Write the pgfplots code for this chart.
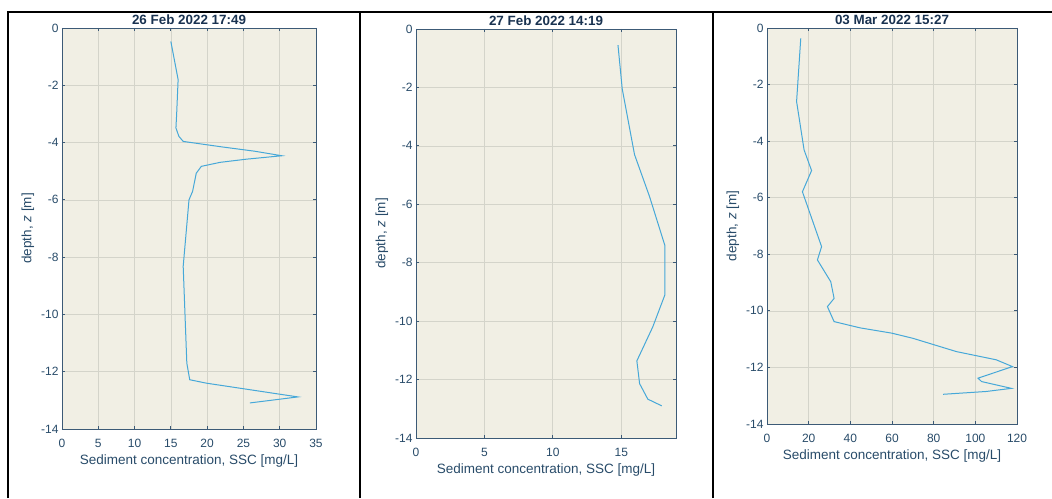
\documentclass[border=0pt]{standalone}
\usepackage{fontspec}
\setmainfont{Liberation Sans}
\usepackage{pgfplots}
\pgfplotsset{compat=1.18}
\definecolor{bgc}{RGB}{241,239,228}
\definecolor{linec}{RGB}{70,168,216}
\definecolor{axc}{RGB}{60,90,118}
\definecolor{txc}{RGB}{40,75,105}
\definecolor{titc}{RGB}{25,50,80}
\definecolor{gridc}{RGB}{212,212,202}
\pgfplotsset{
 myax/.style={
  scale only axis, anchor=south west,
  xmin=0, ymin=-14, ymax=0, ytick={-14,-12,...,0},
  axis background/.style={fill=bgc},
  axis line style={axc, line width=0.8pt},
  tick style={axc, line width=0.8pt},
  major tick length=3pt,
  tick align=inside,
  grid=major, major grid style={gridc, line width=0.7pt},
  tick label style={font=\fontsize{12}{14}\selectfont, text=txc},
  xticklabel style={yshift=-7pt},
  label style={font=\fontsize{13.5}{15}\selectfont, text=txc},
  title style={font=\bfseries\fontsize{13.4}{15}\selectfont, text=titc, inner sep=0pt, at={(0.5,1)}, anchor=south, yshift=-3pt},
  /pgf/number format/assume math mode=true,
  xlabel={Sediment concentration, SSC [mg/L]},
  ylabel={depth, \textit{z} [m]},
 }
}
\pgfplotstableread{
x y
15.0 -0.47
16.0 -1.80
15.8 -3.00
15.7 -3.49
16.1 -3.78
16.7 -3.96
22.0 -4.15
26.5 -4.30
30.3 -4.46
25.4 -4.58
21.8 -4.69
19.2 -4.83
18.5 -5.07
18.0 -5.70
17.5 -6.00
16.7 -8.32
17.2 -11.70
17.6 -12.28
19.9 -12.40
32.5 -12.88
25.9 -13.09
}\dataA
\pgfplotstableread{
x y
14.76 -0.55
15.07 -2.05
15.97 -4.30
17.07 -5.74
18.18 -7.40
18.18 -9.11
17.30 -10.20
16.14 -11.36
16.34 -12.14
16.94 -12.67
17.96 -12.90
}\dataB
\pgfplotstableread{
x y
16.2 -0.37
14.2 -2.60
17.8 -4.31
21.4 -5.04
17.0 -5.79
26.2 -7.73
24.2 -8.20
30.6 -8.97
32.2 -9.56
29.0 -9.85
32.2 -10.38
44.6 -10.60
60.0 -10.79
70.0 -10.97
90.9 -11.44
110.0 -11.73
117.8 -11.97
101.3 -12.38
103.0 -12.50
117.3 -12.74
105.3 -12.85
84.5 -12.95
}\dataC
\begin{document}
\begin{tikzpicture}
\path[use as bounding box] (0pt,0pt) rectangle (1052pt,498pt);
\draw[line width=1.5pt] (8pt,0pt) -- (8pt,486pt) -- (1052pt,486pt);
\draw[line width=1.5pt] (360pt,0pt) -- (360pt,486pt);
\draw[line width=1.5pt] (713pt,0pt) -- (713pt,486pt);
\begin{axis}[myax, at={(62pt,69pt)}, width=254pt, height=401pt, xmax=35, xtick={0,5,...,35},
  title={26 Feb 2022 17:49}]
\addplot[linec, line width=1pt, mark=none] table[x=x,y=y] {\dataA};
\end{axis}
\begin{axis}[myax, at={(416pt,60pt)}, width=260pt, height=409pt, xmax=19, xtick={0,5,10,15},
  title={27 Feb 2022 14:19}]
\addplot[linec, line width=1pt, mark=none] table[x=x,y=y] {\dataB};
\end{axis}
\begin{axis}[myax, at={(767pt,74pt)}, width=250pt, height=396pt, xmax=120, xtick={0,20,...,120},
  title={03 Mar 2022 15:27}]
\addplot[linec, line width=1pt, mark=none] table[x=x,y=y] {\dataC};
\end{axis}
\end{tikzpicture}
\end{document}
